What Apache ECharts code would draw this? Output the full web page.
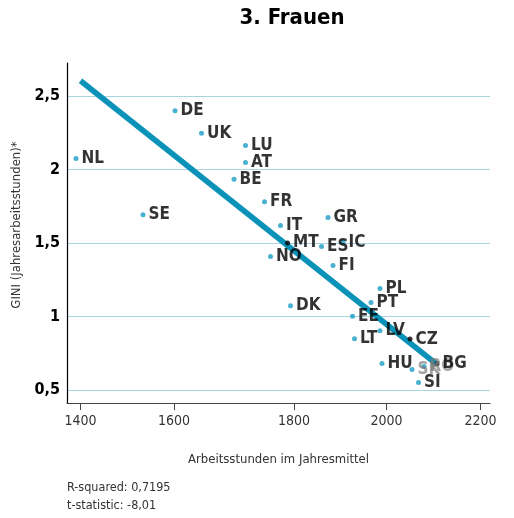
<!DOCTYPE html>
<html>
<head>
<meta charset="utf-8">
<script src="https://cdn.jsdelivr.net/npm/echarts@6/dist/echarts.min.js"></script>
<style>
html,body{margin:0;padding:0;background:#fff;}
#chart{width:514px;height:518px;}
</style>
</head>
<body>
<div id="chart"></div>
<script>
// ---- data ----
var countries = ['DE','UK','LU','AT','NL','BE','FR','SE','GR','IT','MT','ES','IC','NO','FI','PL','PT','DK','EE','LV','LT','CZ','HU','SK','RO','BG','SI'];
var hours     = [1589,1642,1730,1730,1391,1707,1768,1525,1895,1800,1814,1882,1925,1780,1905,1999,1981,1820,1944,1999,1948,2059,2003,2063,2087,2113,2076];
var gini      = [2.40,2.246,2.164,2.048,2.075,1.934,1.781,1.691,1.673,1.618,1.50,1.475,1.504,1.407,1.346,1.189,1.094,1.073,1.00,0.902,0.848,0.845,0.679,0.638,0.659,0.677,0.55];
var onLineNames = ['MT','CZ','BG'];
var greyLabelNames = ['SK','RO'];
var fitX = [1400, 2113];
var fitY = [2.604, 0.672];
var xTickValues = [1400, 1587, 1827, 2012, 2200];
var xTickLabels = ['1400','1600','1800','2000','2200'];
var yTickValues = [0.5, 1, 1.5, 2, 2.5];
var yTickLabels = ['0,5','1','1,5','2','2,5'];
var titleText = '3. Frauen';
var stats = ['R-squared: 0,7195', 't-statistic: -8,01'];

var NARROW = '"Liberation Sans Narrow","Arial Narrow","DejaVu Sans Condensed",sans-serif';

var pts = countries.map(function(c, i){
  var onLine = onLineNames.indexOf(c) >= 0;
  var grey = greyLabelNames.indexOf(c) >= 0;
  return {
    name: c,
    value: [hours[i], gini[i]],
    itemStyle: {color: onLine ? '#000' : '#1a9cc4'},
    label: {color: grey ? 'rgba(120,120,120,0.85)' : '#000'}
  };
});

var chart = echarts.init(document.getElementById('chart'), null, {renderer:'canvas'});
chart.setOption({
  animation: false,
  backgroundColor: '#fff',
  graphic: [
    {type:'text', x: 292, y: 7, style:{text: titleText, font: 'bold 22px ' + NARROW, fill:'#000', textAlign:'center'}},
    {type:'text', left: 67, top: 481, style:{text: stats[0], font: '12.5px ' + NARROW, fill:'#333'}},
    {type:'text', left: 67, top: 499, style:{text: stats[1], font: '12.5px ' + NARROW, fill:'#333'}}
  ],
  grid: {left: 67, top: 63, width: 423, height: 340, containLabel: false},
  xAxis: {
    type: 'value', min: 1373, max: 2219,
    name: 'Arbeitsstunden im Jahresmittel',
    nameLocation: 'middle', nameGap: 50,
    nameTextStyle: {fontFamily: NARROW, fontSize: 13, color: '#333'},
    axisLine: {show: true, lineStyle: {color: '#444', width: 1.2}},
    axisTick: {show: true, customValues: xTickValues, length: 7, lineStyle: {color: '#444'}},
    axisLabel: {
      customValues: xTickValues, margin: 11,
      fontFamily: NARROW, fontSize: 14, color: '#333',
      formatter: function(v){ var i = xTickValues.indexOf(v); return i >= 0 ? xTickLabels[i] : ''; }
    },
    splitLine: {show: false}
  },
  yAxis: {
    type: 'value', min: 0.41, max: 2.725,
    name: 'GINI (Jahresarbeitsstunden)*',
    nameLocation: 'middle', nameGap: 34, nameRotate: 90,
    nameTextStyle: {fontFamily: NARROW, fontSize: 13, color: '#333', padding:[0,0,0,16]},
    axisLine: {show: true, lineStyle: {color: '#000', width: 1.2}},
    axisTick: {show: false, customValues: yTickValues},
    axisLabel: {
      customValues: yTickValues, margin: 7,
      fontFamily: NARROW, fontWeight: 'bold', fontSize: 16, color: '#000',
      formatter: function(v){ var i = yTickValues.indexOf(v); return i >= 0 ? yTickLabels[i] : ''; }
    },
    splitLine: {show: true, lineStyle: {color: '#a9d5e2', width: 1}}
  },
  series: [
    {
      type: 'line',
      data: [[fitX[0], fitY[0]], [fitX[1], fitY[1]]],
      symbol: 'none',
      lineStyle: {color: '#0a92b8', width: 5.5, cap: 'butt'},
      z: 2
    },
    {
      type: 'scatter',
      data: pts,
      symbolSize: 5,
      z: 3,
      label: {
        show: true, position: 'right', distance: 3,
        formatter: '{b}',
        fontFamily: NARROW, fontWeight: 'bold', fontSize: 17
      },
      labelLayout: {hideOverlap: false}
    }
  ]
});
</script>
</body>
</html>
